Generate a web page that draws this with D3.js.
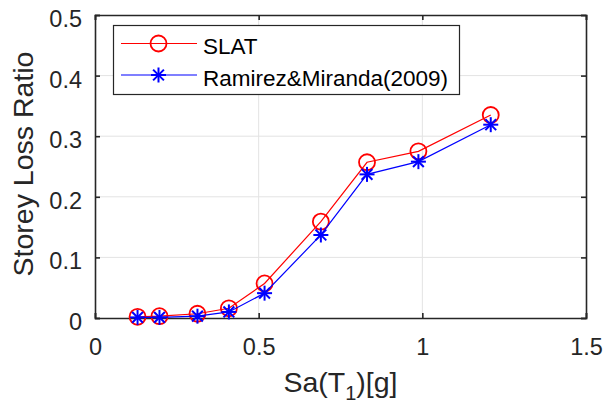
<!DOCTYPE html>
<html>
<head>
<meta charset="utf-8">
<script src="https://cdn.jsdelivr.net/npm/d3@7"></script>
<style>
  html, body { margin: 0; padding: 0; background: #fff; }
  svg { display: block; font-family: "Liberation Sans", Arial, Helvetica, sans-serif; }
</style>
</head>
<body>
<svg id="chart" width="603" height="405"></svg>
<script>
// Spectral acceleration levels Sa(T1) in g
const saLevels = [0.130, 0.197, 0.313, 0.409, 0.518, 0.690, 0.831, 0.988, 1.209];
// Storey loss ratio from SLAT
const slatLoss = [0.002, 0.003, 0.007, 0.016, 0.057, 0.159, 0.257, 0.275, 0.335];
// Storey loss ratio after Ramirez & Miranda (2009)
const ramirezLoss = [0.001, 0.001, 0.003, 0.010, 0.041, 0.137, 0.237, 0.258, 0.319];
const xTicks = [0, 0.5, 1, 1.5];
const yTicks = [0, 0.1, 0.2, 0.3, 0.4, 0.5];
const seriesNames = ["SLAT", "Ramirez&Miranda(2009)"];

const svg = d3.select("#chart");
const m = { left: 95, right: 586, top: 15, bottom: 318 };

const x = d3.scaleLinear().domain([0, 1.5]).range([m.left, m.right]);
const y = d3.scaleLinear().domain([0, 0.5]).range([m.bottom, m.top]);

const axisColor = "#262626";
const tickFont = 23.5;

// grid
const grid = svg.append("g");
grid.selectAll(".gx").data(xTicks.slice(1, -1)).join("line")
  .attr("x1", d => x(d)).attr("x2", d => x(d))
  .attr("y1", m.top).attr("y2", m.bottom)
  .attr("stroke", "#e3e3e3").attr("stroke-width", 1);
grid.selectAll(".gy").data(yTicks.slice(1, -1)).join("line")
  .attr("x1", m.left).attr("x2", m.right)
  .attr("y1", d => y(d)).attr("y2", d => y(d))
  .attr("stroke", "#e3e3e3").attr("stroke-width", 1);

// axes (ticks pointing inward, box on all four sides)
const fmt = d => d3.format("")(d);
const xAxis = svg.append("g").attr("transform", `translate(0,${m.bottom})`)
  .call(d3.axisBottom(x).tickValues(xTicks).tickSize(-5).tickPadding(20).tickFormat(fmt));
const xAxisTop = svg.append("g").attr("transform", `translate(0,${m.top})`)
  .call(d3.axisTop(x).tickValues(xTicks).tickSize(-5).tickFormat(""));
const yAxis = svg.append("g").attr("transform", `translate(${m.left},0)`)
  .call(d3.axisLeft(y).tickValues(yTicks).tickSize(-5).tickPadding(13).tickFormat(fmt));
const yAxisRight = svg.append("g").attr("transform", `translate(${m.right},0)`)
  .call(d3.axisRight(y).tickValues(yTicks).tickSize(-5).tickFormat(""));

[xAxis, xAxisTop, yAxis, yAxisRight].forEach(g => {
  g.select(".domain").attr("stroke", axisColor).attr("stroke-width", 1.6);
  g.selectAll(".tick line").attr("stroke", axisColor).attr("stroke-width", 1.6);
  g.selectAll(".tick text").attr("fill", axisColor)
    .style("font-size", tickFont + "px").style("font-family", "'Liberation Sans', Arial, sans-serif");
});
// y tick labels sit slightly below their tick
yAxis.selectAll(".tick text").attr("dy", (3 + 0.358 * tickFont) + "px");

// series
const line = d3.line().x(d => x(d[0])).y(d => y(d[1]));
const slatPts = saLevels.map((s, i) => [s, slatLoss[i]]);
const ramPts = saLevels.map((s, i) => [s, ramirezLoss[i]]);

function star(g, cx, cy, r, color) {
  const s = g.append("g").attr("transform", `translate(${cx},${cy})`)
    .attr("stroke", color).attr("stroke-width", 2);
  s.append("line").attr("x1", -r).attr("x2", r).attr("y1", 0).attr("y2", 0);
  s.append("line").attr("x1", 0).attr("x2", 0).attr("y1", -r).attr("y2", r);
  const k = r * 0.72;
  s.append("line").attr("x1", -k).attr("x2", k).attr("y1", -k).attr("y2", k);
  s.append("line").attr("x1", -k).attr("x2", k).attr("y1", k).attr("y2", -k);
}

const plot = svg.append("g");
plot.append("path").datum(slatPts).attr("d", line)
  .attr("fill", "none").attr("stroke", "#ff0000").attr("stroke-width", 1.2);
plot.selectAll(".c").data(slatPts).join("circle")
  .attr("cx", d => x(d[0])).attr("cy", d => y(d[1])).attr("r", 8)
  .attr("fill", "none").attr("stroke", "#ff0000").attr("stroke-width", 1.8);

plot.append("path").datum(ramPts).attr("d", line)
  .attr("fill", "none").attr("stroke", "#0000ff").attr("stroke-width", 1.2);
ramPts.forEach(d => star(plot, x(d[0]), y(d[1]), 7.5, "#0000ff"));

// legend
const lg = svg.append("g");
lg.append("rect").attr("x", 113.5).attr("y", 25.5).attr("width", 346).attr("height", 69)
  .attr("fill", "#fff").attr("stroke", axisColor).attr("stroke-width", 1.2);
const rows = [43.5, 75];
lg.append("line").attr("x1", 121).attr("x2", 197).attr("y1", rows[0]).attr("y2", rows[0])
  .attr("stroke", "#ff0000").attr("stroke-width", 1.2);
lg.append("circle").attr("cx", 158.5).attr("cy", rows[0]).attr("r", 8)
  .attr("fill", "none").attr("stroke", "#ff0000").attr("stroke-width", 1.8);
lg.append("line").attr("x1", 121).attr("x2", 197).attr("y1", rows[1]).attr("y2", rows[1])
  .attr("stroke", "#0000ff").attr("stroke-width", 1.2);
star(lg, 158.5, rows[1], 7.5, "#0000ff");
lg.selectAll(".lt").data(seriesNames).join("text")
  .attr("x", 203).attr("y", (d, i) => rows[i] + 3)
  .attr("dy", "0.35em")
  .attr("fill", "#000").style("font-size", "22.5px")
  .text(d => d);

// axis labels
const xl = svg.append("text").attr("x", (m.left + m.right) / 2).attr("y", 392)
  .attr("text-anchor", "middle").attr("fill", axisColor).style("font-size", "28.5px");
xl.append("tspan").text("Sa(T");
xl.append("tspan").attr("dy", 8).style("font-size", "20px").text("1");
xl.append("tspan").attr("dy", -8).text(")[g]");

svg.append("text")
  .attr("transform", `translate(33,164) rotate(-90)`)
  .attr("text-anchor", "middle").attr("fill", axisColor).style("font-size", "28.5px")
  .text("Storey Loss Ratio");
</script>
</body>
</html>
